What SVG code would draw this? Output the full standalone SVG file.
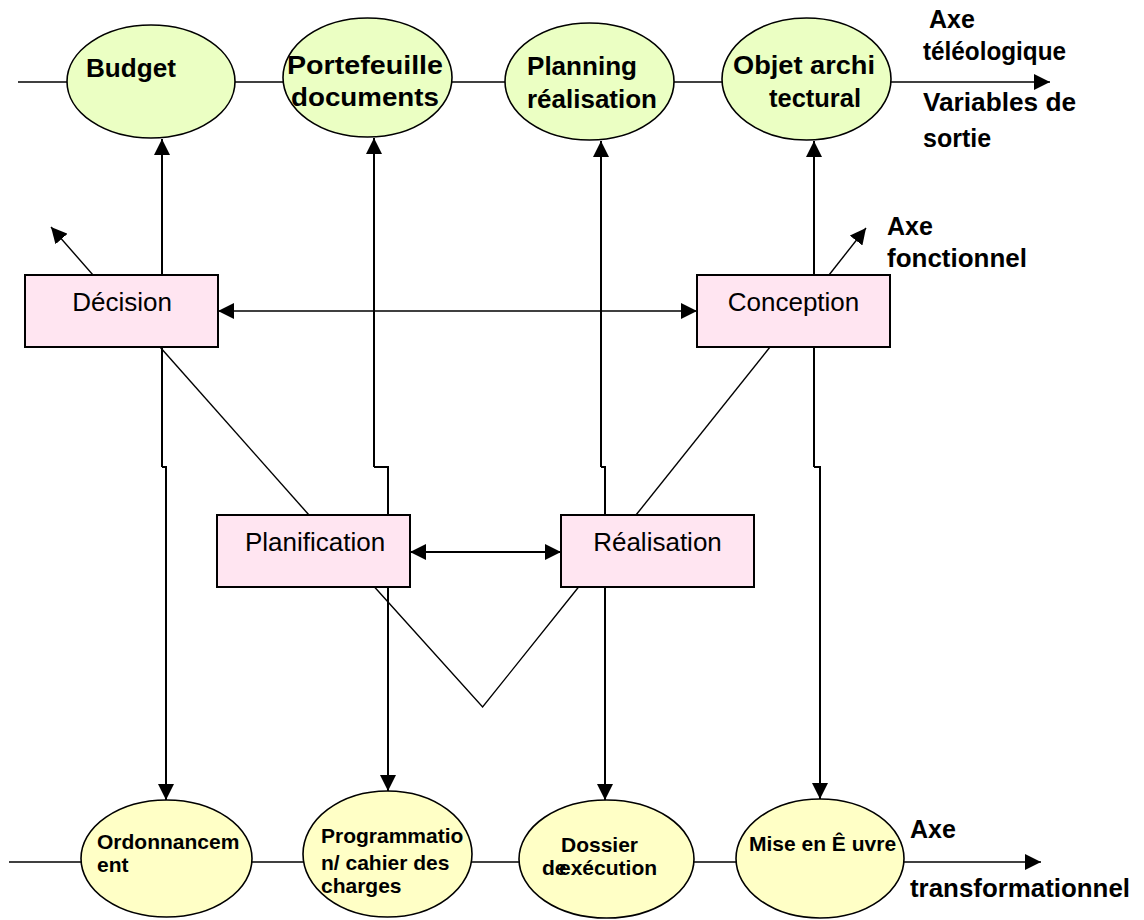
<svg xmlns="http://www.w3.org/2000/svg" width="1144" height="920" viewBox="0 0 1144 920">
  <defs>
    <marker id="arrow" viewBox="0 0 16 16" refX="16" refY="8" markerWidth="16" markerHeight="16" markerUnits="userSpaceOnUse" orient="auto-start-reverse">
      <path d="M0,0 L16,8 L0,16 z" fill="#000"/>
    </marker>
    <style>
      .axis { stroke:#000; stroke-width:1.5; fill:none; }
      .link { stroke:#000; stroke-width:2; fill:none; }
      .thin { stroke:#000; stroke-width:1.4; fill:none; }
      .goal { fill:#ebffc3; stroke:#000; stroke-width:1.6; }
      .work { fill:#ffffc6; stroke:#000; stroke-width:1.6; }
      .func { fill:#ffe5f1; stroke:#000; stroke-width:2; }
      .bt { font-family:"Liberation Sans", Arial, sans-serif; font-weight:bold; fill:#000; }
      .big { font-size:25px; }
      .small { font-size:21px; }
      .rt { font-family:"Liberation Sans", Arial, sans-serif; font-size:26px; fill:#000; text-anchor:middle; }
    </style>
  </defs>

  <rect width="1144" height="920" fill="#fff"/>

  <!-- axes and connectors -->
  <g id="connectors">
    <!-- teleological axis (outputs) -->
    <line class="axis" x1="18" y1="82" x2="1050" y2="82" marker-end="url(#arrow)"/>
    <!-- transformational axis -->
    <line class="axis" x1="9" y1="862" x2="1041" y2="862" marker-end="url(#arrow)"/>

    <!-- vertical links between the two axes -->
    <path class="link" d="M162,467 V139" marker-end="url(#arrow)"/>
    <path class="link" d="M162,467 H166 V800" marker-end="url(#arrow)"/>
    <path class="link" d="M374,467 V138" marker-end="url(#arrow)"/>
    <path class="link" d="M374,467 H388 V791" marker-end="url(#arrow)"/>
    <path class="link" d="M601,467 V141" marker-end="url(#arrow)"/>
    <path class="link" d="M601,467 H605 V800" marker-end="url(#arrow)"/>
    <path class="link" d="M814,467 V141" marker-end="url(#arrow)"/>
    <path class="link" d="M814,467 H820 V799" marker-end="url(#arrow)"/>

    <!-- functional axis arrows -->
    <line class="thin" x1="93" y1="275" x2="51" y2="227" marker-end="url(#arrow)"/>
    <line class="thin" x1="829" y1="275" x2="866" y2="228" marker-end="url(#arrow)"/>

    <!-- horizontal exchanges -->
    <line class="thin" x1="218" y1="311" x2="697" y2="311" marker-start="url(#arrow)" marker-end="url(#arrow)"/>
    <line class="link" x1="410" y1="552" x2="561" y2="552" marker-start="url(#arrow)" marker-end="url(#arrow)"/>

    <!-- diagonals -->
    <line class="thin" x1="160" y1="347" x2="309" y2="515"/>
    <line class="thin" x1="770" y1="347" x2="636" y2="515"/>
    <polyline class="thin" points="374.5,587 482.6,707 578.6,587"/>
  </g>

  <!-- output variables -->
  <g id="budget">
    <ellipse class="goal" cx="151" cy="81.5" rx="84" ry="56.5"/>
    <text class="bt big" x="86" y="77" textLength="90" lengthAdjust="spacingAndGlyphs">Budget</text>
  </g>
  <g id="portefeuille">
    <ellipse class="goal" cx="367.5" cy="77.5" rx="84.5" ry="59.5"/>
    <text class="bt big" x="287" y="74" textLength="156" lengthAdjust="spacingAndGlyphs">Portefeuille</text>
    <text class="bt big" x="291" y="106" textLength="148" lengthAdjust="spacingAndGlyphs">documents</text>
  </g>
  <g id="planning">
    <ellipse class="goal" cx="589.5" cy="81.5" rx="84.5" ry="58.5"/>
    <text class="bt big" x="527" y="75" textLength="110" lengthAdjust="spacingAndGlyphs">Planning</text>
    <text class="bt big" x="527" y="108" textLength="130" lengthAdjust="spacingAndGlyphs">réalisation</text>
  </g>
  <g id="objet">
    <ellipse class="goal" cx="806.5" cy="79" rx="84.5" ry="61"/>
    <text class="bt big" x="733" y="74" textLength="142" lengthAdjust="spacingAndGlyphs">Objet archi</text>
    <text class="bt big" x="769" y="107" textLength="92" lengthAdjust="spacingAndGlyphs">tectural</text>
  </g>

  <!-- functions -->
  <g id="decision">
    <rect class="func" x="25" y="275" width="193" height="72"/>
    <text class="rt" x="122" y="311">Décision</text>
  </g>
  <g id="conception">
    <rect class="func" x="697" y="275" width="193" height="72"/>
    <text class="rt" x="793.5" y="311">Conception</text>
  </g>
  <g id="planification">
    <rect class="func" x="217" y="515" width="193" height="72"/>
    <text class="rt" x="315" y="551">Planification</text>
  </g>
  <g id="realisation">
    <rect class="func" x="561" y="515" width="193" height="72"/>
    <text class="rt" x="657.5" y="551">Réalisation</text>
  </g>

  <!-- transformation stages -->
  <g id="ordonnancement">
    <ellipse class="work" cx="166.5" cy="858.5" rx="85.5" ry="58.5"/>
    <text class="bt small" x="97" y="849">Ordonnancem</text>
    <text class="bt small" x="97" y="872">ent</text>
  </g>
  <g id="programmation">
    <ellipse class="work" cx="387.5" cy="854" rx="84.5" ry="63"/>
    <text class="bt small" x="321" y="843">Programmatio</text>
    <text class="bt small" x="321" y="870">n/ cahier des</text>
    <text class="bt small" x="321" y="893">charges</text>
  </g>
  <g id="dossier">
    <ellipse class="work" cx="606.5" cy="859" rx="87.5" ry="59"/>
    <text class="bt small" x="561" y="852">Dossier</text>
    <text class="bt small" x="542" y="875">de<tspan dx="-7.5">exécution</tspan></text>
  </g>
  <g id="mise-en-oeuvre">
    <ellipse class="work" cx="820" cy="858.5" rx="84" ry="59.5"/>
    <text class="bt small" x="749" y="851">Mise en Ê uvre</text>
  </g>

  <!-- axis labels -->
  <g id="labels">
    <text class="bt big" x="929" y="28">Axe</text>
    <text class="bt big" x="923" y="60" textLength="143" lengthAdjust="spacingAndGlyphs">téléologique</text>
    <text class="bt big" x="923" y="111" textLength="153" lengthAdjust="spacingAndGlyphs">Variables de</text>
    <text class="bt big" x="923" y="147">sortie</text>
    <text class="bt big" x="887" y="235">Axe</text>
    <text class="bt big" x="887" y="267" textLength="140" lengthAdjust="spacingAndGlyphs">fonctionnel</text>
    <text class="bt big" x="910" y="838">Axe</text>
    <text class="bt big" x="910" y="897" textLength="220" lengthAdjust="spacingAndGlyphs">transformationnel</text>
  </g>
</svg>
